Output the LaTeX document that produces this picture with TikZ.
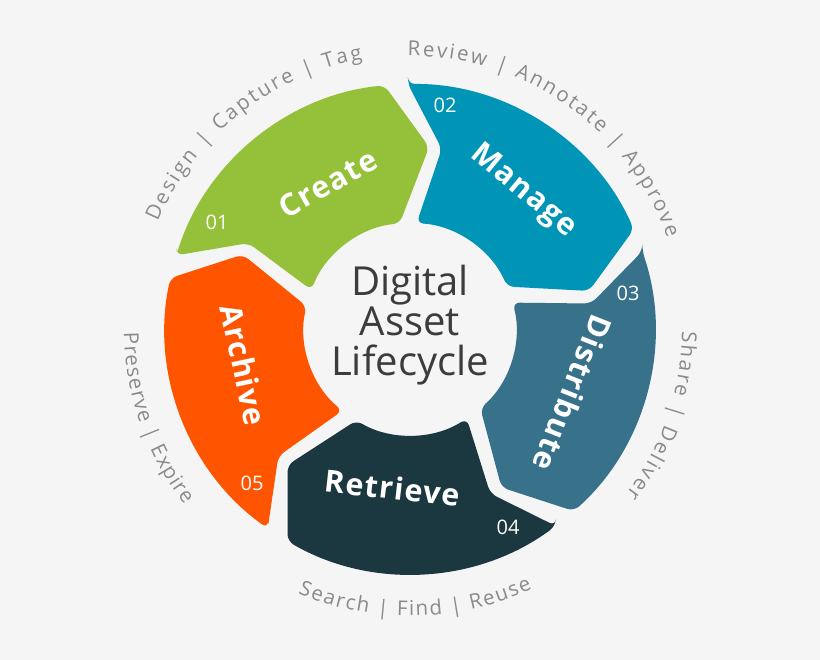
\documentclass[tikz,border=0pt]{standalone}
\usepackage{fontspec}
\setmainfont{Open Sans}
\usepackage{tikz}
\usetikzlibrary{decorations.text}

\definecolor{bgcol}{HTML}{F5F5F5}
\definecolor{createcol}{HTML}{95C039}
\definecolor{managecol}{HTML}{0095B6}
\definecolor{distcol}{HTML}{37718A}
\definecolor{retrcol}{HTML}{1B3740}
\definecolor{archcol}{HTML}{FF5500}
\definecolor{taggrey}{HTML}{8A8A8A}
\definecolor{titlegrey}{HTML}{3C3C3C}

\newcommand{\stagefont}{\fontsize{30.5}{36}\selectfont\bfseries\addfontfeature{LetterSpace=4}}
\newcommand{\tagfont}{\fontsize{20.5}{24}\selectfont}

\begin{document}
\begin{tikzpicture}[x=1pt,y=1pt,
	stage/.style={fill=#1,rounded corners=7pt},
	stagename/.style={text=white,font=\stagefont,inner sep=0pt},
	stagenum/.style={text=white,font=\fontsize{20}{24}\selectfont,inner sep=0pt},
	tagline/.style={decorate,decoration={text along path,text format delimiters={[}{]},text color=taggrey,text align={fit to path},text={#1}}}]
		\fill[bgcol] (-410,-331) rectangle (410,329);
		
		% the five arrow segments
		\fill[stage=createcol] (162.5:245) -- (152:183) -- (158.4:106) arc[start angle=158.4,end angle=95.6,radius=106] -- (84:183) -- (96:245) arc[start angle=96,end angle=162.5,radius=245] -- cycle;
		\fill[stage=managecol] (90.5:245) -- (80:183) -- (86.4:106) arc[start angle=86.4,end angle=23.6,radius=106] -- (12:183) -- (24:245) arc[start angle=24,end angle=90.5,radius=245] -- cycle;
		\fill[stage=distcol] (18.5:245) -- (8:183) -- (14.4:106) arc[start angle=14.4,end angle=-48.4,radius=106] -- (-60:183) -- (-48:245) arc[start angle=-48,end angle=18.5,radius=245] -- cycle;
		\fill[stage=retrcol] (-53.5:245) -- (-64:183) -- (-57.6:106) arc[start angle=-57.6,end angle=-120.4,radius=106] -- (-132:183) -- (-120:245) arc[start angle=-120,end angle=-53.5,radius=245] -- cycle;
		\fill[stage=archcol] (-125.5:245) -- (-136:183) -- (-129.6:106) arc[start angle=-129.6,end angle=-192.4,radius=106] -- (-204:183) -- (-192:245) arc[start angle=-192,end angle=-125.5,radius=245] -- cycle;
		
		\node[stagename,rotate=29.4] (create) at (119.4:167) {Create};
		\node[stagename,rotate=-39.5] (manage) at (50.5:178) {Manage};
		\node[stagename,rotate=-111.5] (distribute) at (-21.5:175) {Distribute};
		\node[stagename,rotate=-6.4] (retrieve) at (-96.4:160) {Retrieve};
		\node[stagename,rotate=-77.8] (archive) at (192.2:170) {Archive};
		
		\node[stagenum] (num01) at (-193,107) {01};
		\node[stagenum] (num02) at (35,224) {02};
		\node[stagenum] (num03) at (218,36) {03};
		\node[stagenum] (num04) at (98,-198) {04};
		\node[stagenum] (num05) at (-158,-154) {05};
		
		\node[text=titlegrey,font=\fontsize{40}{40}\selectfont,align=center] (title) at (0,4) {Digital\\Asset\\Lifecycle};
		
		% outer taglines
		\path[tagline={[\tagfont]Design | Capture | Tag}] (157:274) arc[start angle=157,end angle=100,radius=274];
		\path[tagline={[\tagfont]Review | Annotate | Approve}] (90.5:273) arc[start angle=90.5,end angle=19.5,radius=273];
		\path[tagline={[\tagfont]Share | Deliver}] (-0.5:272) arc[start angle=-0.5,end angle=-37.5,radius=272];
		\path[tagline={[\tagfont]Search | Find | Reuse}] (-113:287) arc[start angle=-113,end angle=-64.8,radius=287];
		\path[tagline={[\tagfont]Preserve | Expire}] (180.7:286) arc[start angle=180.7,end angle=218,radius=286];
	\end{tikzpicture}
\end{document}
